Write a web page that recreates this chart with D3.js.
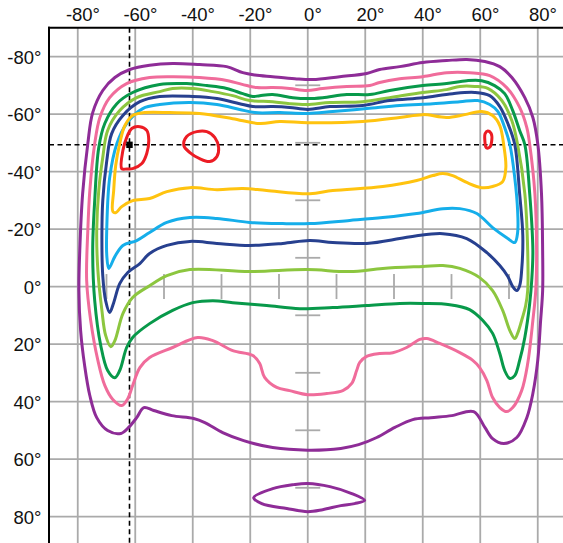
<!DOCTYPE html>
<html><head><meta charset="utf-8">
<script src="https://cdn.jsdelivr.net/npm/d3@7"></script>
<style>html,body{margin:0;padding:0;background:#fff;overflow:hidden}</style>
</head><body>
<svg id="chart" width="563" height="543"></svg>
<script>
// ---------- data (degrees) ----------
const xTicks = [-80,-60,-40,-20,0,20,40,60,80];
const yTicks = [-80,-60,-40,-20,0,20,40,60,80];
const minorTicks = [-70,-50,-30,-10,10,30,50,70];
const markerPoint = [-62.0, -49.3];

const purpleMain = [[-65.0,51.1],[-69.6,50.1],[-73.4,45.6],[-75.8,37.9],[-77.6,27.5],[-79.0,15.3],[-79.6,1.4],[-79.3,-12.5],[-78.3,-32.3],[-76.5,-49.7],[-74.8,-60.5],[-71.3,-68.2],[-67.1,-72.7],[-61.9,-75.5],[-55.0,-77.0],[-47.0,-77.6],[-37.6,-77.2],[-28.2,-76.5],[-22.6,-74.4],[-18.4,-73.6],[-12.2,-73.0],[-4.5,-72.3],[1.7,-72.0],[11.1,-73.0],[20.5,-74.1],[25.0,-75.5],[32.0,-76.5],[40.0,-77.9],[48.3,-78.6],[55.3,-79.0],[61.6,-78.3],[66.8,-76.5],[71.0,-72.7],[75.5,-65.7],[78.3,-58.8],[80.0,-49.7],[81.3,-32.3],[81.7,-12.5],[81.7,1.4],[81.0,11.8],[80.0,25.7],[78.3,37.2],[76.2,45.6],[72.7,52.5],[68.2,54.6],[64.3,52.9],[61.6,49.0],[57.7,43.5],[50.1,44.9],[42.8,45.6],[36.5,46.3],[30.3,49.0],[24.0,52.5],[17.7,55.0],[11.5,56.3],[0,56.9],[-12.2,56.0],[-22.3,53.6],[-29.6,50.8],[-35.8,47.3],[-39.7,45.9],[-47.3,44.9],[-53.6,43.1],[-57.0,42.1],[-59.5,45.6],[-62.3,49.0]];
const purpleLoop = [[-18.8,73.4],[-12.2,70.3],[-4.9,68.9],[0,68.5],[7.7,69.6],[15.3,72.0],[19.8,74.4],[16.3,75.5],[11.5,76.2],[5.2,77.6],[0,78.3],[-7.3,77.2],[-16.0,75.5]];
const pinkLine = [[-64.7,41.4],[-67.8,39.3],[-70.6,34.4],[-73.0,25.7],[-75.5,11.8],[-76.9,-2.1],[-76.5,-19.5],[-75.8,-33.4],[-74.1,-49.7],[-72.3,-58.8],[-68.9,-65.7],[-63.0,-70.6],[-55.0,-72.7],[-47.0,-73.0],[-37.6,-72.7],[-28.2,-71.7],[-21.2,-69.9],[-17.7,-69.2],[-12.2,-69.2],[-6.3,-68.9],[-0.3,-68.2],[5.2,-68.9],[13.6,-69.6],[21.6,-69.9],[25.0,-71.0],[32.0,-72.3],[40.0,-73.0],[48.3,-74.4],[56.3,-74.4],[63.3,-73.4],[69.2,-69.2],[73.7,-62.3],[76.2,-55.3],[77.2,-49.4],[79.0,-32.3],[79.6,-12.5],[79.3,1.4],[78.3,11.8],[76.5,26.8],[74.4,36.2],[71.3,42.1],[69.2,43.5],[66.8,42.1],[64.3,38.6],[62.3,32.7],[59.8,28.2],[57.4,25.7],[52.9,23.0],[45.9,19.8],[41.4,18.1],[39.0,18.4],[34.4,21.2],[29.6,23.0],[25.0,23.3],[20.5,24.3],[18.1,26.4],[17.0,29.2],[15.3,33.7],[12.2,36.2],[6.6,37.2],[0,37.6],[-6.3,36.2],[-10.8,35.1],[-15.0,31.6],[-16.7,26.8],[-19.1,24.0],[-26.1,22.3],[-33.0,18.8],[-38.3,17.7],[-47.0,21.2],[-55.0,24.7],[-58.4,28.2],[-60.9,34.4],[-62.6,39.0]];
const darkGreenLine = [[-67.1,31.7],[-69.6,29.2],[-72.0,20.5],[-74.1,4.9],[-74.8,-12.5],[-74.1,-29.9],[-72.7,-48.3],[-70.6,-56.7],[-66.4,-63.6],[-60.9,-67.5],[-51.5,-70.3],[-42.1,-70.6],[-35.1,-69.9],[-28.2,-68.9],[-22.6,-67.1],[-19.1,-66.1],[-16.7,-66.4],[-12.2,-66.8],[-5.2,-65.7],[0,-65.4],[5.2,-65.7],[13.6,-66.8],[21.6,-66.8],[28.5,-68.2],[40.0,-69.9],[48.3,-70.6],[55.3,-71.6],[60.5,-71.6],[65.0,-69.9],[68.5,-67.1],[71.3,-61.2],[73.7,-54.3],[75.5,-49.4],[77.2,-32.3],[78.3,-12.5],[77.9,-2.1],[77.2,5.9],[75.5,17.7],[73.7,25.7],[72.0,31.0],[70.3,32.0],[68.5,29.2],[66.8,23.3],[64.3,16.3],[60.9,11.8],[56.3,8.0],[49.4,6.3],[40.0,5.9],[32.0,5.9],[20.5,6.6],[8.7,7.3],[-2.8,7.7],[-14.3,6.6],[-26.1,5.6],[-33.0,4.9],[-40.0,5.6],[-47.0,8.3],[-55.0,12.9],[-60.9,17.7],[-63.0,21.2],[-65.4,29.2]];
const lightGreenLine = [[-68.5,20.9],[-70.3,17.0],[-71.6,8.3],[-73.0,-5.6],[-73.4,-19.5],[-72.7,-33.4],[-71.3,-44.9],[-69.6,-54.3],[-65.4,-61.2],[-59.5,-65.7],[-51.5,-67.8],[-47.0,-68.9],[-40.0,-68.9],[-33.0,-67.8],[-26.1,-66.4],[-20.2,-64.7],[-12.2,-64.3],[-6.3,-63.6],[-0.3,-63.3],[7.7,-64.0],[19.1,-64.3],[28.5,-65.7],[40.0,-67.5],[48.3,-68.5],[52.9,-69.6],[58.1,-69.6],[62.6,-68.9],[67.5,-64.7],[71.0,-57.7],[73.0,-49.4],[75.5,-32.3],[76.5,-12.5],[76.5,1.4],[75.8,6.6],[74.4,11.8],[73.0,16.3],[72.0,18.1],[70.3,15.3],[67.8,8.3],[64.3,1.4],[59.8,-3.1],[52.9,-6.3],[47.0,-7.3],[40.0,-7.0],[26.1,-6.3],[14.6,-5.2],[-0.3,-5.9],[-20.2,-5.2],[-41.0,-5.9],[-49.0,-3.8],[-55.0,-0.3],[-60.9,3.8],[-64.3,9.4],[-67.1,18.8]];
const darkBlueLine = [[-68.9,9.0],[-70.3,4.9],[-71.3,-3.8],[-71.6,-16.0],[-71.3,-29.9],[-69.9,-43.8],[-68.2,-53.2],[-64.3,-59.5],[-58.4,-64.3],[-51.5,-66.1],[-40.0,-66.1],[-31.6,-65.4],[-23.7,-63.6],[-19.1,-62.6],[-12.2,-62.6],[-6.3,-62.3],[0,-61.6],[7.7,-62.6],[19.1,-63.0],[28.5,-64.7],[40.0,-65.7],[50.4,-67.1],[58.1,-67.5],[63.3,-66.4],[66.8,-62.6],[69.6,-56.7],[72.0,-49.4],[73.7,-32.3],[74.8,-17.7],[74.4,-5.6],[73.7,-0.3],[72.7,1.4],[71.3,0],[69.6,-3.5],[66.8,-7.3],[62.3,-11.8],[55.3,-16.7],[47.0,-18.4],[37.9,-17.7],[32.0,-16.7],[20.5,-15.0],[8.7,-15.3],[0.7,-16.0],[-8.7,-15.0],[-20.2,-14.3],[-31.6,-15.0],[-41.0,-15.7],[-49.0,-14.3],[-55.0,-11.5],[-58.4,-8.0],[-62.6,-4.9],[-65.4,-1.0],[-67.5,5.6]];
const lightBlueLine = [[-69.2,-6.3],[-69.9,-10.8],[-69.9,-20.5],[-68.9,-37.9],[-66.4,-49.7],[-63.0,-56.7],[-57.4,-61.9],[-51.5,-63.3],[-41.0,-64.0],[-31.6,-63.3],[-23.7,-61.6],[-18.4,-60.5],[-9.7,-60.5],[0,-60.2],[8.7,-60.9],[20.5,-61.9],[32.0,-63.0],[43.5,-63.6],[52.9,-64.3],[59.1,-64.7],[63.3,-63.3],[66.1,-60.9],[68.5,-55.3],[70.3,-49.4],[72.0,-37.9],[73.0,-26.4],[73.0,-18.8],[72.0,-15.3],[69.2,-17.0],[64.3,-20.5],[58.8,-25.4],[52.9,-27.1],[47.0,-27.1],[37.9,-25.4],[26.1,-24.0],[14.6,-23.0],[0.7,-21.9],[-8.7,-21.9],[-20.2,-22.3],[-31.6,-23.7],[-41.0,-24.0],[-49.0,-22.3],[-55.0,-18.8],[-59.5,-16.0],[-64.3,-14.3],[-67.1,-10.4]];
const yellowLine = [[-67.8,-26.1],[-67.5,-33.4],[-66.8,-42.1],[-65.4,-49.7],[-63.6,-56.0],[-60.9,-59.5],[-56.7,-60.5],[-48.0,-60.5],[-37.6,-60.2],[-26.1,-58.4],[-16.7,-56.7],[-9.7,-57.4],[0,-57.0],[19.1,-57.4],[32.0,-58.8],[40.0,-59.8],[48.3,-58.8],[54.6,-59.8],[60.5,-60.9],[64.3,-59.5],[66.8,-56.0],[68.2,-49.0],[68.9,-41.4],[67.8,-36.5],[64.3,-34.8],[60.5,-34.4],[55.3,-36.2],[50.4,-38.6],[47.0,-39.3],[43.5,-38.6],[37.9,-36.9],[26.1,-34.8],[8.7,-33.4],[0.7,-32.3],[-14.3,-33.4],[-22.6,-34.1],[-31.6,-33.7],[-41.0,-34.4],[-49.0,-33.0],[-55.0,-30.6],[-60.9,-29.9],[-64.7,-27.8],[-66.8,-25.7]];
const redLeft = [[-64.7,-41.0],[-64.3,-47.3],[-63.0,-51.8],[-61.2,-55.0],[-58.4,-55.6],[-56.0,-54.3],[-55.3,-50.8],[-56.0,-46.3],[-57.7,-42.8],[-60.9,-41.0],[-63.0,-40.9]];
const redMid = [[-43.1,-49.0],[-42.1,-52.2],[-38.6,-53.9],[-35.1,-53.9],[-32.3,-51.8],[-31.0,-48.3],[-31.6,-45.2],[-34.1,-43.5],[-37.6,-44.5],[-41.0,-46.6]];
const redRight = [[62.6,-54.1],[63.8,-53.2],[64.0,-50.8],[63.3,-48.5],[62.1,-48.3],[61.6,-50.8],[61.7,-53.2]];

const contourColors = {
  purple: "#8E2C97", pink: "#F06C9B", darkGreen: "#08994A", lightGreen: "#8CC63F",
  darkBlue: "#27408F", lightBlue: "#15AEEA", yellow: "#FFC30F", red: "#EC1C24"
};
const contours = [
  {pts: purpleMain, c: contourColors.purple},
  {pts: purpleLoop, c: contourColors.purple},
  {pts: pinkLine, c: contourColors.pink},
  {pts: darkGreenLine, c: contourColors.darkGreen},
  {pts: lightGreenLine, c: contourColors.lightGreen},
  {pts: darkBlueLine, c: contourColors.darkBlue},
  {pts: lightBlueLine, c: contourColors.lightBlue},
  {pts: yellowLine, c: contourColors.yellow},
  {pts: redLeft, c: contourColors.red},
  {pts: redMid, c: contourColors.red},
  {pts: redRight, c: contourColors.red}
];

// ---------- drawing ----------
const svg = d3.select("#chart");
const x = d3.scaleLinear().domain([-90, 90]).range([49, 566.5]);
const y = d3.scaleLinear().domain([-90, 90]).range([27.8, 545.3]);
const FONT = "'Liberation Sans', Arial, Helvetica, sans-serif";
const gridColor = "#aaaaaa";

// grid
svg.append("g").selectAll("line").data(xTicks).join("line")
  .attr("x1", d => x(d)).attr("x2", d => x(d)).attr("y1", y(-90)).attr("y2", y(90))
  .attr("stroke", gridColor).attr("stroke-width", 1.8);
svg.append("g").selectAll("line").data(yTicks).join("line")
  .attr("y1", d => y(d)).attr("y2", d => y(d)).attr("x1", x(-90)).attr("x2", x(90))
  .attr("stroke", gridColor).attr("stroke-width", 1.8);

// minor ticks along the centre lines
const tickHalf = 12.5;
svg.append("g").selectAll("line").data(minorTicks).join("line")
  .attr("x1", d => x(d)).attr("x2", d => x(d)).attr("y1", y(0) - tickHalf).attr("y2", y(0) + tickHalf)
  .attr("stroke", gridColor).attr("stroke-width", 1.8);
svg.append("g").selectAll("line").data(minorTicks).join("line")
  .attr("y1", d => y(d)).attr("y2", d => y(d)).attr("x1", x(0) - tickHalf).attr("x2", x(0) + tickHalf)
  .attr("stroke", gridColor).attr("stroke-width", 1.8);

// dashed crosshair
svg.append("line").attr("x1", x(markerPoint[0])).attr("x2", x(markerPoint[0]))
  .attr("y1", y(-90)).attr("y2", y(90))
  .attr("stroke", "#000").attr("stroke-width", 1.6).attr("stroke-dasharray", "5,3.5");
svg.append("line").attr("y1", y(markerPoint[1])).attr("y2", y(markerPoint[1]))
  .attr("x1", x(-90)).attr("x2", x(90))
  .attr("stroke", "#000").attr("stroke-width", 1.6).attr("stroke-dasharray", "5,3.5");

// contours
const line = d3.line().x(d => x(d[0])).y(d => y(d[1])).curve(d3.curveCatmullRomClosed.alpha(0.5));
svg.append("g").selectAll("path").data(contours).join("path")
  .attr("d", d => line(d.pts)).attr("fill", "none").attr("stroke", d => d.c)
  .attr("stroke-width", 3).attr("stroke-linejoin", "round");

// marker square
svg.append("rect").attr("x", x(markerPoint[0]) - 3.2).attr("y", y(markerPoint[1]) - 3.2)
  .attr("width", 6.4).attr("height", 6.4).attr("fill", "#000");

// frame (left & top)
svg.append("line").attr("x1", x(-90)).attr("x2", x(-90)).attr("y1", y(-90) - 1).attr("y2", y(90))
  .attr("stroke", "#000").attr("stroke-width", 2);
svg.append("line").attr("x1", x(-90) - 1).attr("x2", x(90)).attr("y1", y(-90)).attr("y2", y(-90))
  .attr("stroke", "#000").attr("stroke-width", 2);

// axes
const fmt = d => d + "°";
const gx = svg.append("g").attr("transform", "translate(0,20.8)")
  .call(d3.axisTop(x).tickValues(xTicks).tickSize(0).tickPadding(0).tickFormat(fmt));
gx.select(".domain").remove();
gx.selectAll("text").attr("y", 0).attr("dy", null)
  .attr("font-family", FONT).attr("font-size", "18.5px").attr("fill", "#111")
  .each(function(d) {
    const t = d3.select(this);
    const tmp = svg.append("text").attr("font-family", FONT).attr("font-size", "18.5px").text(String(d));
    const w = tmp.node().getComputedTextLength();
    tmp.remove();
    t.attr("text-anchor", "start").attr("x", -w / 2 + 1);
  });

const gy = svg.append("g").attr("transform", "translate(41.5,0)")
  .call(d3.axisLeft(y).tickValues(yTicks).tickSize(0).tickPadding(0).tickFormat(fmt));
gy.select(".domain").remove();
gy.selectAll("text").attr("x", 0).attr("dy", null).attr("y", 6.8)
  .attr("font-family", FONT).attr("font-size", "18.5px").attr("fill", "#111").attr("text-anchor", "end");
</script>
</body></html>
